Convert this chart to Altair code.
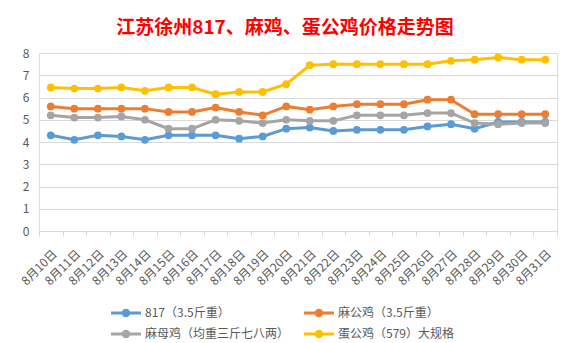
import altair as alt
import pandas as pd

days = [f"8月{d}日" for d in range(10, 32)]
series_names = ["817（3.5斤重）", "麻公鸡（3.5斤重）", "麻母鸡（均重三斤七八两）", "蛋公鸡（579）大规格"]
s817 = [4.3, 4.1, 4.3, 4.25, 4.1, 4.3, 4.3, 4.3, 4.15, 4.25, 4.6, 4.65, 4.5, 4.55, 4.55, 4.55, 4.7, 4.8, 4.6, 4.9, 4.9, 4.9]
s_magong = [5.6, 5.5, 5.5, 5.5, 5.5, 5.35, 5.35, 5.55, 5.35, 5.2, 5.6, 5.45, 5.6, 5.7, 5.7, 5.7, 5.9, 5.9, 5.25, 5.25, 5.25, 5.25]
s_mamu = [5.2, 5.1, 5.1, 5.15, 5.0, 4.6, 4.6, 5.0, 4.95, 4.85, 5.0, 4.95, 4.95, 5.2, 5.2, 5.2, 5.3, 5.3, 4.85, 4.8, 4.85, 4.85]
s_dangong = [6.45, 6.4, 6.4, 6.45, 6.3, 6.45, 6.45, 6.15, 6.25, 6.25, 6.6, 7.45, 7.5, 7.5, 7.5, 7.5, 7.5, 7.65, 7.7, 7.8, 7.7, 7.7]
colors = ["#5B9BD5", "#ED7D31", "#A5A5A5", "#FFC000"]

rows = []
for name, vals in zip(series_names, [s817, s_magong, s_mamu, s_dangong]):
    for d, v in zip(days, vals):
        rows.append({"date": d, "series": name, "price": v})
df = pd.DataFrame(rows)

legend_path = ("M-3,-0.3H3V0.3H-3Z "
               "M-0.85,0A0.85,0.85 0 1,1 0.85,0A0.85,0.85 0 1,1 -0.85,0Z")

font = "Noto Sans CJK SC"

base = alt.Chart(df).encode(
    x=alt.X("date:N", sort=days, title=None,
            axis=alt.Axis(labelAngle=-45, labelColor="#595959", labelFontSize=12,
                          labelFont=font, domainColor="#D9D9D9", tickColor="#D9D9D9",
                          tickBand="extent", tickSize=5, grid=False, labelPadding=12)),
    y=alt.Y("price:Q", scale=alt.Scale(domain=[0, 8]), title=None,
            axis=alt.Axis(values=list(range(0, 9)), labelColor="#595959", labelFontSize=12,
                          labelFont=font, domain=False, ticks=False, gridColor="#D9D9D9",
                          labelPadding=10)),
    color=alt.Color("series:N", sort=series_names,
                    scale=alt.Scale(domain=series_names, range=colors),
                    legend=alt.Legend(title=None, orient="none", legendX=81, legendY=254,
                                      direction="horizontal",
                                      columns=2, columnPadding=14, rowPadding=9,
                                      symbolType=legend_path, symbolSize=100,
                                      symbolStrokeWidth=0, labelOffset=13,
                                      labelColor="#595959", labelFontSize=12, labelFont=font,
                                      labelLimit=300)),
)

lines = base.mark_line(strokeWidth=3)
points = base.mark_circle(size=60, opacity=1)

chart = alt.layer(lines, points).properties(
    width=518, height=178,
    autosize=alt.AutoSizeParams(type="none"),
    padding={"left": 39, "top": 53, "right": 16, "bottom": 112},
    title=alt.TitleParams("江苏徐州817、麻鸡、蛋公鸡价格走势图", color="#FF0000", fontSize=19,
                          font=font, fontWeight="bold", anchor="middle", offset=9, dx=-13),
).configure_view(stroke=None).configure(background="white")

chart.save("out.html", embed_options={"renderer": "svg", "actions": False})
